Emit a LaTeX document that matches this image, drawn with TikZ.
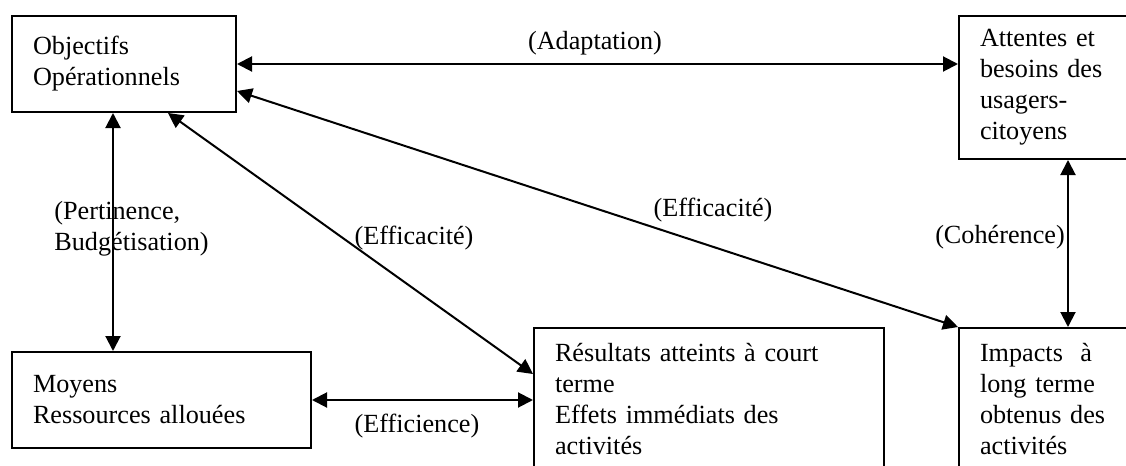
\documentclass[tikz,border=0pt]{standalone}
\usepackage{fontspec}
\setmainfont{Liberation Serif}
\usetikzlibrary{arrows.meta, positioning, calc}

\begin{document}
\begin{tikzpicture}[x=0.5pt,y=-0.5pt,%font=\sffamily
        font=\fontsize{13.1}{15.5}\selectfont,
        boite/.style={draw,line width=1pt,anchor=north west,align=left,
                inner xsep=10.5pt,inner ysep=0pt},
        fleche/.style={line width=1pt,
                {Triangle[length=7.5pt,width=7.5pt]}-{Triangle[length=7.5pt,width=7.5pt]}},
        etiq/.style={inner sep=0pt}]
        \useasboundingbox (0,0) rectangle (1126,466);
        \node[boite,text width=91pt,minimum height=48pt] (obj) at (11,15) {Objectifs\\Opérationnels};
        \node[boite,text width=65pt,minimum height=71.5pt] (att) at (958,15) {Attentes et\\besoins des\\usagers-\\citoyens};
        \node[boite,text width=128.5pt,minimum height=48pt] (moy) at (11,351) {Moyens\\Ressources allouées};
        \node[boite,text width=154pt,minimum height=71pt] (res) at (533,327) {Résultats atteints à court\\terme\\Effets immédiats des\\activités};
        \node[boite,text width=65pt,minimum height=71pt] (imp) at (958,327) {Impacts~ à\\long terme\\obtenus des\\activités};
        \draw[fleche] (obj.east) -- (obj.east -| att.west);
        \draw[fleche] ([yshift=-13.5pt]obj.east) -- (imp.north west);
        \draw[fleche] ([xshift=-5.5pt]obj.south) -- ([xshift=-5.5pt]obj.south |- moy.north);
        \draw[fleche] ([xshift=22pt]obj.south) -- ([yshift=12.5pt]res.west);
        \draw[fleche] (moy.east) -- (moy.east -| res.west);
        \draw[fleche] ([xshift=11.5pt]att.south) -- ([xshift=11.5pt]att.south |- imp.north);
        \foreach \nom/\pos/\texte in {adapt/{(595,43)}/(Adaptation),effa/{(713,210)}/(Efficacité),
                effb/{(414,238)}/(Efficacité),coher/{(1000,237)}/(Cohérence),effic/{(417,426)}/(Efficience)}
        {\node[etiq] (\nom) at \pos {\texte};}
        \node[etiq,align=left,anchor=west] (pert) at (54,229) {(Pertinence,\\Budgétisation)};
\end{tikzpicture}
\end{document}
